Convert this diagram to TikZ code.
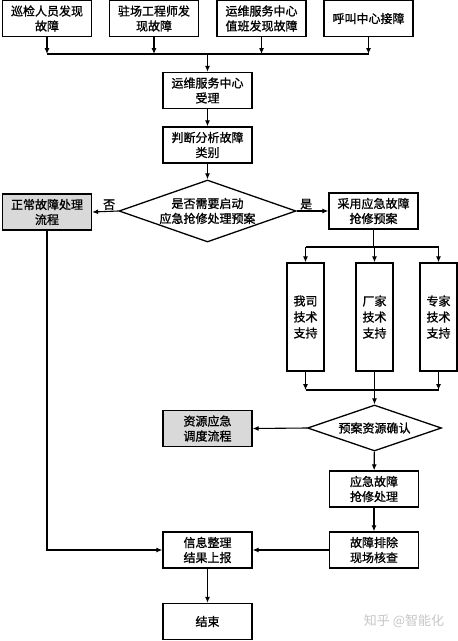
\documentclass[tikz,border=0pt]{standalone}
\usepackage{fontspec}
\newfontfamily\cjk[FakeBold=1.2]{Noto Sans CJK SC}
\newfontfamily\markfont{Noto Sans CJK SC}
\usetikzlibrary{arrows.meta,shapes.geometric}
\definecolor{boxgray}{RGB}{217,217,217}
\begin{document}
\begin{tikzpicture}
[
x=1pt, y=-1pt,
every node/.style={font=\cjk\fontsize{12}{15}\selectfont},
Box/.style={rectangle, draw=black, fill=white, line width=1.3pt, minimum width=89pt, minimum height=36pt, inner sep=0pt, align=center},
GrayBox/.style={Box, fill=boxgray},
TallBox/.style={rectangle, draw=black, fill=white, line width=1.3pt, minimum width=37pt, minimum height=108pt, inner sep=0pt, align=center, font=\cjk\fontsize{12}{16}\selectfont},
Decision/.style={diamond, draw=black, fill=white, line width=1.3pt, inner sep=0pt},
Line/.style={draw=black, line width=1.1pt},
Arrow/.style={Line, -{Latex[length=6pt,width=5pt]}},
Answer/.style={inner sep=1pt},
]

\useasboundingbox (0,0) rectangle (458,641);

% fault sources
\node[Box] (patrol) at ( 47,18.5) {巡检人员发现\\故障};
\node[Box] (onsite) at (154,18.5) {驻场工程师发\\现故障};
\node[Box] (duty)   at (261.5,18.5) {运维服务中心\\值班发现故障};
\node[Box] (call)   at (368.5,18.5) {呼叫中心接障};

\coordinate (collect) at (207.5,54);

\node[Box] (accept) at (207.5,90.5) {运维服务中心\\受理};
\node[Box] (judge)  at (207.5,145) {判断分析故障\\类别};

\node[Decision, minimum width=177pt, minimum height=62pt,
      label={[align=center]center:{是否需要启动\\应急抢修处理预案}}] (start) at (207.5,211) {};

\node[GrayBox] (normal) at ( 47,212) {正常故障处理\\流程};
\node[Box]     (plan)   at (373.5,211) {采用应急故障\\抢修预案};

% support teams
\coordinate (split) at (373.5,247);
\node[TallBox] (ours)   at (305.5,317) {我司\\技术\\支持};
\node[TallBox] (vendor) at (374.5,317) {厂家\\技术\\支持};
\node[TallBox] (expert) at (438.5,317) {专家\\技术\\支持};
\coordinate (merge) at (374.5,390);

\node[Decision, minimum width=134pt, minimum height=46pt,
      label={center:预案资源确认}] (confirm) at (374.5,428) {};

\node[GrayBox] (dispatch) at (207.5,428.5) {资源应急\\调度流程};
\node[Box]     (repair)   at (374,489) {应急故障\\抢修处理};
\node[Box]     (check)    at (374,550) {故障排除\\现场核查};
\node[Box]     (report)   at (207.5,550) {信息整理\\结果上报};
\node[Box]     (finish)   at (207.5,621.5) {结束};

\node[text=gray!45, font=\markfont\fontsize{13}{15}\selectfont] (mark) at (404,621) {知乎 @智能化};

% connectors
\draw[Arrow] (patrol) -- (patrol |- collect);
\draw[Arrow] (onsite) -- (onsite |- collect);
\draw[Arrow] (duty) -- (duty |- collect);
\draw[Arrow] (call) -- (call |- collect);
\draw[Line] (patrol |- collect) -- (call |- collect);
\draw[Arrow] (collect) -- (accept);
\draw[Arrow] (accept) -- (judge);
\draw[Arrow] (judge) -- (start);

\draw[Arrow] (start.west) -- node[Answer, above, pos=0.35] (no) {否} (normal.east);
\draw[Arrow] (start.east) -- node[Answer, above, pos=0.3] (yes) {是} (plan.west);

\draw[Line] (plan) -- (split);
\draw[Line] (ours |- split) -- (expert |- split);
\draw[Arrow] (ours |- split) -- (ours);
\draw[Arrow] (vendor |- split) -- (vendor);
\draw[Arrow] (expert |- split) -- (expert);

\draw[Arrow] (ours) -- (ours |- merge);
\draw[Arrow] (expert) -- (expert |- merge);
\draw[Line] (ours |- merge) -- (expert |- merge);
\draw[Arrow] (vendor) -- (confirm);

\draw[Arrow] (confirm.west) -- (dispatch.east);
\draw[Arrow] (confirm) -- (repair);
\draw[Arrow] (repair) -- (check);
\draw[Arrow] (check) -- (report);
\draw[Arrow] (normal) |- (report);
\draw[Arrow] (report) -- (finish);

\end{tikzpicture}
\end{document}
